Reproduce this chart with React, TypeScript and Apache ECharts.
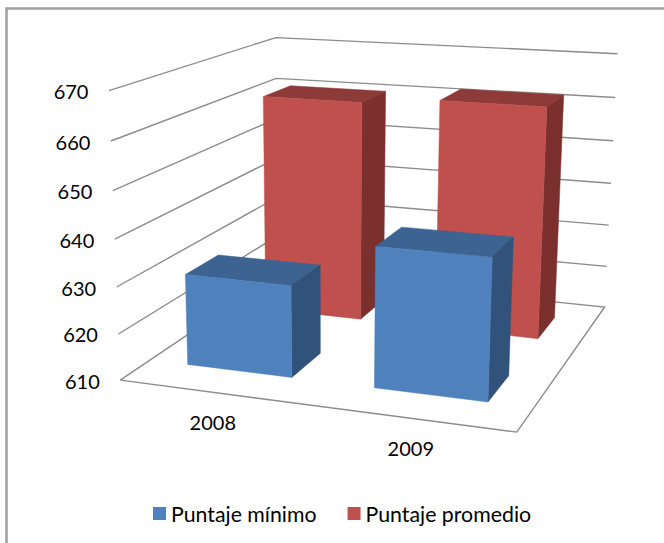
import React, { useEffect, useRef } from "react";
import * as echarts from "echarts";

const categories = ["2008", "2009"];
const minScores = [629.8, 639.7];
const avgScores = [660.5, 662];
const yTicks = [610, 620, 630, 640, 650, 660, 670];

const W = 664;
const H = 543;
const FONT = "Lato";
const GRID_COLOR = "#8C8C8C";
const BLUE = { front: "#4F81BD", top: "#3C6391", side: "#31527A" };
const RED = { front: "#C0504D", top: "#8E3A38", side: "#7B302E" };

// Camera fit: cube corners (u along categories, t along values, w into depth) -> pixels
const corners: number[][] = [
  [0, 0, 0, 121, 379],
  [1, 0, 0, 517, 433],
  [1, 0, 1, 605, 306],
  [0, 0, 1, 277, 275],
  [0, 1, 0, 108, 91],
  [1, 1, 1, 617, 54],
  [0, 1, 1, 277, 37],
];

function solve(A: number[][], b: number[]): number[] {
  const n = b.length;
  const M = A.map((r, i) => [...r, b[i]]);
  for (let c = 0; c < n; c++) {
    let piv = c;
    for (let r = c + 1; r < n; r++) if (Math.abs(M[r][c]) > Math.abs(M[piv][c])) piv = r;
    [M[c], M[piv]] = [M[piv], M[c]];
    for (let r = 0; r < n; r++) {
      if (r === c) continue;
      const f = M[r][c] / M[c][c];
      for (let k = c; k <= n; k++) M[r][k] -= f * M[c][k];
    }
  }
  return M.map((r, i) => r[n] / r[i]);
}

function fitCamera(): number[] {
  const rows: number[][] = [];
  const rhs: number[] = [];
  corners.forEach(([u, t, w, x, y]) => {
    rows.push([u, t, w, 1, 0, 0, 0, 0, -x * u, -x * t, -x * w]);
    rhs.push(x);
    rows.push([0, 0, 0, 0, u, t, w, 1, -y * u, -y * t, -y * w]);
    rhs.push(y);
  });
  const n = 11;
  const AtA = Array.from({ length: n }, (_, i) =>
    Array.from({ length: n }, (_, j) => rows.reduce((s, r) => s + r[i] * r[j], 0))
  );
  const Atb = Array.from({ length: n }, (_, i) => rows.reduce((s, r, k) => s + r[i] * rhs[k], 0));
  return solve(AtA, Atb);
}

const P = fitCamera();
function project(u: number, t: number, w: number): number[] {
  const d = P[8] * u + P[9] * t + P[10] * w + 1;
  return [
    (P[0] * u + P[1] * t + P[2] * w + P[3]) / d,
    (P[4] * u + P[5] * t + P[6] * w + P[7]) / d,
  ];
}

const BAR_HALF_U = 0.142;
const BAR_SHIFT_U = -0.003;
const BAR_HALF_W = 0.097;
const BLUE_DEPTH = 0.258;
const RED_DEPTH = 0.758;

function barRenderer(depth: number, c: { front: string; top: string; side: string }) {
  return (_p: any, api: any) => {
    const pt = api.coord([api.value(0), api.value(1)]);
    const uc = pt[0] / W + BAR_SHIFT_U;
    const t = 1 - pt[1] / H;
    const u0 = uc - BAR_HALF_U;
    const u1 = uc + BAR_HALF_U;
    const w0 = depth - BAR_HALF_W;
    const w1 = depth + BAR_HALF_W;
    const poly = (pts: number[][], fill: string) => ({
      type: "polygon",
      shape: { points: pts },
      style: { fill, stroke: fill, lineWidth: 0.5 },
    });
    return {
      type: "group",
      children: [
        poly([project(u0, t, w0), project(u0, t, w1), project(u1, t, w1), project(u1, t, w0)], c.top),
        poly([project(u1, 0, w0), project(u1, t, w0), project(u1, t, w1), project(u1, 0, w1)], c.side),
        poly([project(u0, 0, w0), project(u1, 0, w0), project(u1, t, w0), project(u0, t, w0)], c.front),
      ],
    };
  };
}

function gridRenderer(_p: any, api: any) {
  const v = api.value(1);
  const t = 1 - api.coord([0, v])[1] / H;
  const lineStyle = { stroke: GRID_COLOR, lineWidth: 1.4, fill: "none" };
  const start = project(0, t, 0);
  const pts = [start, project(0, t, 1), project(1, t, 1)];
  if (t < 0.001) pts.push(project(1, t, 0), start);
  return {
    type: "group",
    children: [
      { type: "polyline", shape: { points: pts }, style: lineStyle },
      {
        type: "text",
        style: {
          text: String(v),
          x: start[0] - 20.5,
          y: start[1] + 0.5,
          align: "right",
          verticalAlign: "middle",
          fill: "#000000",
          font: `20px ${FONT}`,
        },
      },
    ],
  };
}

function categoryRenderer(_p: any, api: any) {
  const idx = api.value(0);
  const u = api.coord([idx, 610])[0] / W;
  const p = project(u, 0, 0);
  return {
    type: "text",
    style: {
      text: categories[idx],
      x: p[0],
      y: p[1] + 30,
      align: "center",
      verticalAlign: "middle",
      fill: "#000000",
      font: `20px ${FONT}`,
    },
  };
}

export default function App() {
  const ref = useRef<HTMLDivElement>(null);
  useEffect(() => {
    document.body.style.margin = "0";
    const chart = echarts.init(ref.current!, null, { renderer: "svg" });
    chart.setOption({
      animation: false,
      backgroundColor: "#FFFFFF",
      grid: { left: 0, top: 0, right: 0, bottom: 0 },
      xAxis: { type: "category", data: categories, show: false },
      yAxis: { type: "value", min: 610, max: 670, interval: 10, show: false },
      legend: {
        data: ["Puntaje mínimo", "Puntaje promedio"],
        left: 153,
        top: 503,
        padding: 0,
        icon: "rect",
        itemWidth: 13,
        itemHeight: 13,
        itemGap: 31,
        selectedMode: false,
        textStyle: { fontFamily: FONT, fontSize: 21.3, color: "#000000" },
      },
      graphic: [
        {
          type: "rect",
          shape: { x: 6.5, y: 8.5, width: 720, height: 600 },
          style: { fill: "none", stroke: "#A0A0A0", lineWidth: 2.5 },
          z: -1,
        },
      ],
      series: [
        {
          type: "custom",
          name: "grid",
          renderItem: gridRenderer,
          data: yTicks.map((v) => [0, v]),
          silent: true,
          z: 1,
        },
        {
          type: "custom",
          name: "cats",
          renderItem: categoryRenderer,
          data: categories.map((_, i) => [i, 610]),
          silent: true,
          z: 1,
        },
        {
          type: "custom",
          name: "Puntaje promedio",
          renderItem: barRenderer(RED_DEPTH, RED),
          data: avgScores.map((v, i) => [i, v]),
          itemStyle: { color: RED.front },
          z: 2,
        },
        {
          type: "custom",
          name: "Puntaje mínimo",
          renderItem: barRenderer(BLUE_DEPTH, BLUE),
          data: minScores.map((v, i) => [i, v]),
          itemStyle: { color: BLUE.front },
          z: 3,
        },
      ],
    });
    return () => chart.dispose();
  }, []);
  return <div ref={ref} style={{ width: W, height: H }} />;
}
